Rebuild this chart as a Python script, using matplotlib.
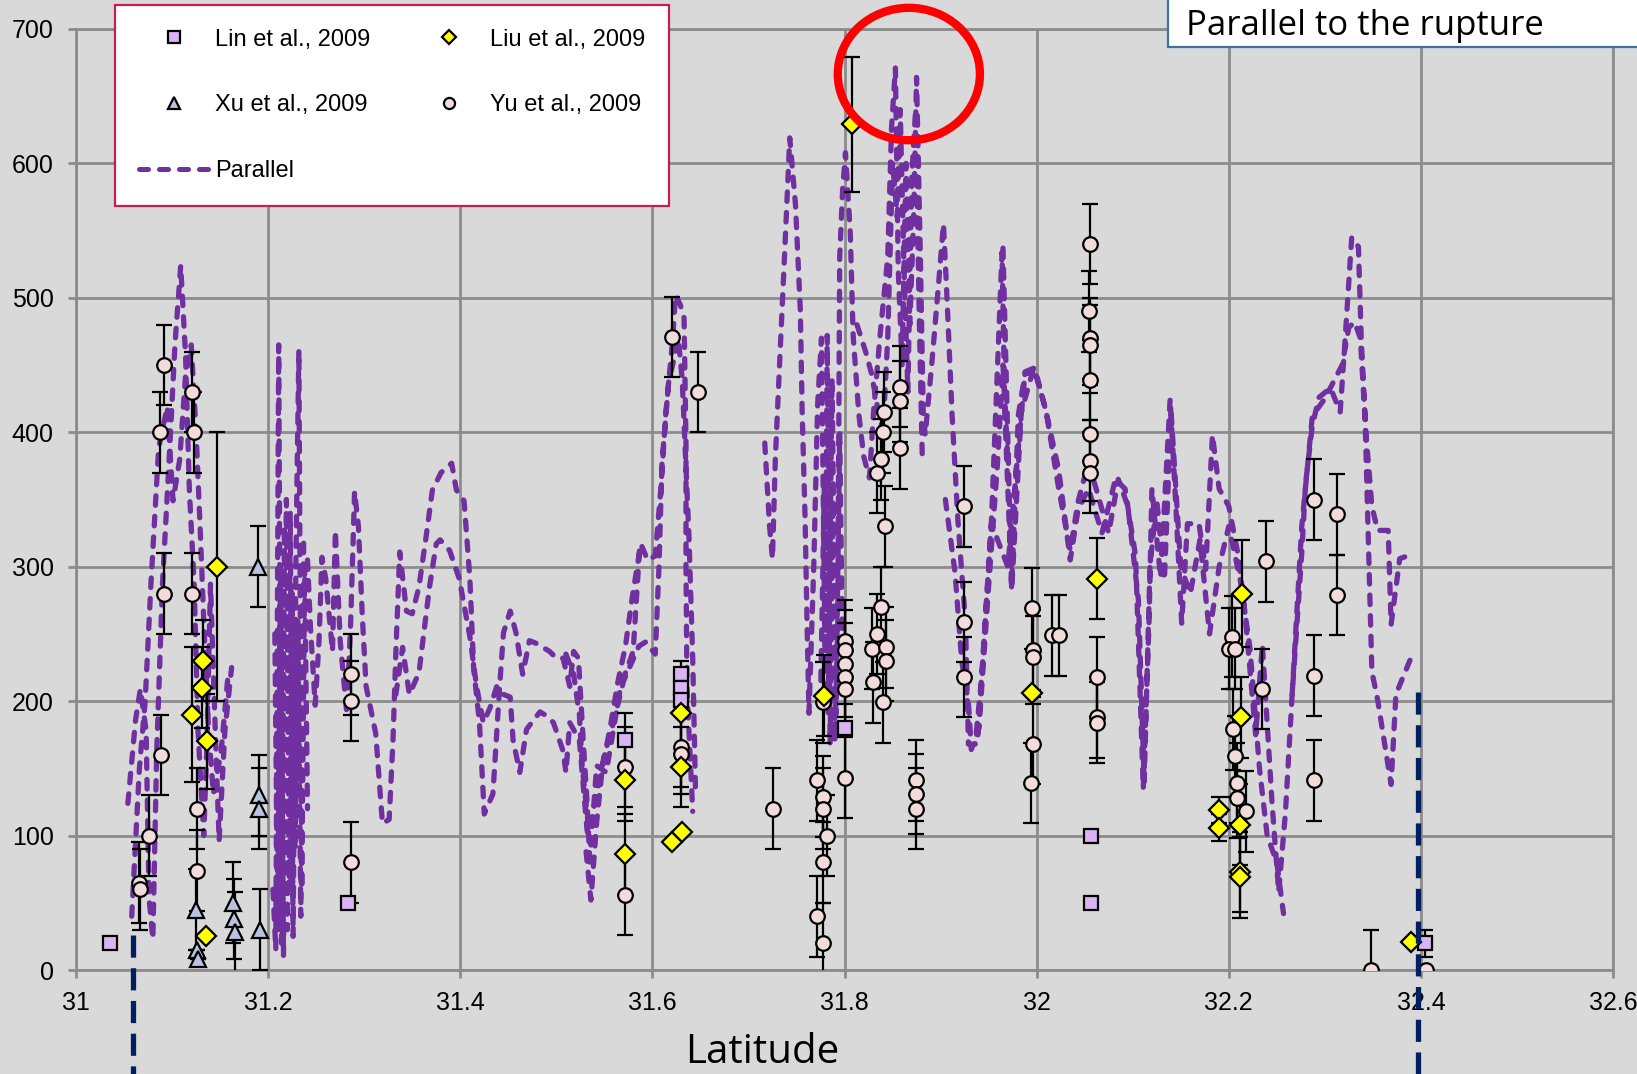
import matplotlib
matplotlib.use("Agg")
import matplotlib.pyplot as plt
from matplotlib.lines import Line2D
from matplotlib.patches import Ellipse, Rectangle

plt.rcParams['font.family'] = ['Liberation Sans', 'DejaVu Sans']

nan = float('nan')

# ---------------- measured values ----------------
lin_lat = [31.035, 31.283, 31.571, 31.630, 31.630, 31.630, 31.800, 32.057, 32.057, 32.404]
lin_val = [20, 50, 171, 220, 210, 201, 180, 100, 50, 20]
lin_err = [0, 0, 20, 10, 0, 0, 0, 0, 0, 10]

xu_lat = [31.125, 31.126, 31.127, 31.163, 31.164, 31.165, 31.189, 31.190, 31.191, 31.192]
xu_val = [45, 15, 8, 50, 38, 28, 300, 130, 120, 30]
xu_err = [30, 0, 0, 30, 30, 30, 30, 30, 30, 30]

liu_lat = [31.121, 31.131, 31.132, 31.136, 31.147, 31.135, 31.571, 31.571, 31.620, 31.631,
           31.630, 31.630, 31.779, 31.808, 31.995, 32.063, 32.190, 32.190, 32.214, 32.213,
           32.212, 32.212, 32.212, 32.390]
liu_val = [190, 210, 230, 170, 300, 25, 141, 86, 95, 103,
           191, 151, 204, 629, 206, 291, 119, 106, 280, 188,
           108, 73, 69, 21]
liu_err = [50, 30, 30, 35, 100, 0, 30, 30, 0, 0,
           30, 30, 30, 50, 0, 30, 10, 10, 40, 30,
           30, 30, 30, 0]

yu_lat = [31.066, 31.067, 31.076, 31.0885, 31.092, 31.0875, 31.092, 31.121, 31.123, 31.121,
          31.126, 31.126, 31.286, 31.286, 31.286, 31.571, 31.571, 31.620, 31.648, 31.630,
          31.630, 31.726, 31.771, 31.778, 31.778, 31.782, 31.778, 31.771, 31.778, 31.778,
          31.800, 31.800, 31.800, 31.800, 31.800, 31.800, 31.829, 31.830, 31.834, 31.834,
          31.838, 31.840, 31.841, 31.842, 31.838, 31.843, 31.843, 31.840, 31.858, 31.858,
          31.858, 31.874, 31.874, 31.874, 31.924, 31.924, 31.924, 31.995, 31.996, 31.996,
          31.996, 31.994, 32.016, 32.023, 32.056, 32.055, 32.056, 32.056, 32.056, 32.056,
          32.056, 32.056, 32.063, 32.063, 32.063, 32.2035, 32.200, 32.207, 32.204, 32.206,
          32.209, 32.209, 32.218, 32.235, 32.239, 32.289, 32.289, 32.289, 32.313, 32.313,
          32.348, 32.405]
yu_val = [65, 60, 100, 160, 280, 400, 450, 430, 400, 280,
          120, 74, 220, 200, 80, 151, 56, 471, 430, 166,
          161, 120, 141, 129, 120, 100, 80, 40, 20, 199,
          245, 238, 228, 218, 209, 143, 239, 214, 250, 370,
          380, 400, 415, 330, 270, 240, 230, 199, 434, 423,
          388, 141, 131, 120, 345, 259, 218, 269, 238, 233,
          168, 139, 249, 249, 540, 490, 470, 465, 439, 399,
          379, 370, 218, 188, 184, 248, 239, 239, 179, 159,
          139, 128, 118, 209, 304, 350, 219, 141, 339, 279,
          0, 0]
yu_err = [30] * 90 + [30, 0]

# "Parallel" profile, several overlapping traces separated by gaps
parallel_lat = [
    31.054, 31.062, 31.067, 31.073, 31.076, 31.080, 31.084, 31.090, 31.097, 31.103, 31.109,
    31.114, 31.118, 31.123, 31.127, 31.133, 31.136, 31.140, 31.145, 31.149, 31.155, 31.162, nan,
    31.058, 31.066, 31.072, 31.078, 31.086, 31.095, 31.101, 31.108, 31.114, 31.120, 31.125,
    31.129, 31.133, 31.138, 31.143, 31.151, 31.158, nan,
    31.205, 31.208, 31.211, 31.214, 31.217, 31.220, 31.223, 31.226, 31.229, 31.232, 31.235,
    31.238, 31.241, nan,
    31.207, 31.210, 31.213, 31.216, 31.219, 31.222, 31.225, 31.228, 31.231, 31.234, 31.237, nan,
    31.241, 31.244, 31.249, 31.253, 31.256, 31.260, 31.267, 31.270, 31.275, 31.282, 31.286,
    31.290, 31.294, 31.298, 31.302, 31.312, 31.319, 31.326, 31.330, 31.333, 31.337, 31.344,
    31.350, 31.357, 31.364, 31.371, 31.380, 31.391, 31.396, 31.404, 31.410, 31.414, 31.420,
    31.425, 31.434, 31.441, 31.445, 31.452, 31.458, 31.465, 31.472, 31.479, 31.493, 31.500,
    31.507, 31.514, 31.518, 31.523, 31.528, 31.532, 31.535, nan,
    31.333, 31.340, 31.347, 31.357, 31.368, 31.375, 31.379, 31.389, 31.399, 31.410, 31.417,
    31.424, 31.431, 31.438, 31.445, 31.452, 31.455, 31.462, 31.469, 31.483, 31.490, 31.497,
    31.507, 31.510, 31.514, 31.524, 31.532, 31.536, 31.542, 31.552, 31.567, 31.580, 31.587, nan,
    31.531, 31.536, 31.542, 31.548, 31.556, 31.564, 31.572, 31.579, 31.588, 31.595, 31.603,
    31.609, 31.614, 31.621, 31.624, 31.629, 31.633, 31.635, 31.635, 31.636, 31.642, nan,
    31.510, 31.518, 31.524, 31.527, 31.534, 31.542, 31.550, 31.558, 31.570, 31.586, 31.593,
    31.603, 31.607, 31.610, 31.617, 31.622, 31.627, 31.631, 31.638, 31.642, 31.645, nan,
    31.717, 31.722, 31.725, 31.728, 31.733, 31.738, 31.743, 31.749, 31.754, 31.756, 31.759,
    31.761, 31.763, 31.768, 31.772, 31.776, 31.780, 31.782, 31.785, 31.788, 31.790, 31.793,
    31.795, 31.798, 31.801, 31.806, 31.809, 31.815, 31.820, 31.826, 31.830, 31.837, 31.845,
    31.849, 31.853, 31.856, 31.860, 31.864, 31.868, 31.872, 31.875, 31.879, 31.882, 31.884,
    31.891, 31.898, 31.903, 31.906, 31.912, 31.918, 31.926, 31.929, 31.936, 31.943, 31.953,
    31.964, 31.967, 31.974, 31.981, 31.988, 31.995, nan,
    31.775, 31.779, 31.783, 31.787, 31.791, 31.795, 31.798, nan,
    31.813, 31.822, 31.828, 31.834, 31.840, 31.845, 31.850, 31.855, 31.858, 31.862, 31.866,
    31.870, 31.874, 31.878, 31.881, nan,
    31.905, 31.915, 31.922, 31.929, 31.932, 31.940, 31.950, 31.959, 31.965, 31.970, nan,
    31.965, 31.974, 31.984, 31.997, 32.009, 32.023, 32.035, 32.043, 32.054, 32.068, 32.082,
    32.092, 32.103, 32.111, 32.117, 32.120, 32.129, 32.139, 32.144, 32.151, 32.157, 32.169,
    32.176, 32.183, 32.190, 32.200, 32.210, 32.217, 32.228, 32.235, 32.245, 32.252, 32.259,
    32.266, 32.276, 32.280, 32.287, 32.294, 32.306, 32.316, 32.321, 32.328, 32.335, 32.338,
    32.343, 32.349, 32.355, 32.366, 32.369, 32.378, 32.386, nan,
    31.939, 31.953, 31.970, 31.988, 31.998, 32.010, 32.023, 32.035, 32.043, 32.054, 32.075,
    32.085, 32.095, 32.106, 32.112, 32.118, 32.125, 32.133, 32.140, 32.150, 32.160, 32.170,
    32.180, 32.190, 32.200, 32.212, 32.222, 32.232, 32.240, 32.250, 32.257, nan,
    32.266, 32.276, 32.287, 32.300, 32.318, 32.325, 32.331, 32.337, 32.342, 32.349, 32.355,
    32.369, 32.374, 32.389,
]
parallel_val = [
    124, 186, 209, 178, 54, 23, 162, 287, 380, 465, 524,
    458, 357, 287, 178, 100, 162, 287, 178, 96, 178, 225, nan,
    40, 150, 200, 287, 388, 419, 349, 380, 442, 465, 400,
    333, 260, 178, 131, 162, 217, nan,
    60, 15, 465, 20, 330, 30, 340, 25, 310, 461, 60,
    300, 120, nan,
    250, 30, 300, 10, 350, 60, 280, 90, 260, 40, 320, nan,
    305, 256, 197, 245, 307, 291, 237, 327, 245, 190, 260,
    356, 330, 264, 211, 176, 109, 112, 171, 237, 311, 267,
    265, 285, 320, 357, 370, 377, 357, 349, 291, 224, 184,
    116, 131, 211, 251, 267, 251, 220, 245, 243, 237, 232,
    232, 211, 237, 232, 171, 125, 79, nan,
    205, 240, 205, 221, 285, 317, 320, 312, 291, 248, 211,
    184, 195, 211, 205, 203, 171, 147, 179, 192, 189, 184,
    163, 147, 184, 171, 104, 93, 152, 147, 211, 237, 317, nan,
    88, 52, 110, 151, 180, 214, 241, 277, 317, 305, 308,
    360, 414, 468, 502, 495, 485, 391, 300, 210, 118, nan,
    235, 220, 190, 151, 103, 130, 160, 180, 215, 241, 244,
    235, 302, 377, 438, 453, 470, 440, 324, 232, 130, nan,
    392, 330, 306, 380, 460, 538, 619, 569, 491, 413, 335,
    258, 191, 300, 420, 470, 220, 472, 168, 350, 170, 258,
    530, 580, 608, 549, 472, 413, 382, 366, 413, 472, 530,
    627, 671, 520, 450, 600, 480, 560, 664, 530, 413, 398,
    452, 511, 555, 511, 413, 335, 258, 168, 168, 219, 335,
    534, 413, 285, 413, 444, 444, nan,
    200, 360, 190, 440, 190, 400, 230, nan,
    480, 460, 444, 420, 400, 470, 600, 560, 640, 520, 430,
    590, 640, 480, 380, nan,
    350, 296, 230, 199, 164, 180, 285, 374, 450, 380, nan,
    537, 282, 415, 448, 418, 372, 305, 342, 358, 325, 365,
    358, 308, 135, 258, 358, 292, 425, 358, 258, 332, 332,
    298, 398, 358, 345, 308, 265, 175, 242, 125, 58, 117,
    205, 310, 362, 405, 426, 433, 415, 468, 545, 538, 468,
    398, 345, 327, 327, 257, 306, 308, nan,
    175, 332, 300, 445, 448, 415, 358, 312, 348, 378, 325,
    365, 345, 275, 140, 300, 350, 290, 415, 300, 280, 320,
    250, 300, 330, 290, 240, 150, 100, 80, 42, nan,
    205, 330, 412, 425, 450, 478, 482, 470, 408, 222, 201,
    138, 205, 231,
]

x_ticks = [31, 31.2, 31.4, 31.6, 31.8, 32, 32.2, 32.4, 32.6]
x_tick_labels = ['31', '31.2', '31.4', '31.6', '31.8', '32', '32.2', '32.4', '32.6']
y_ticks = [0, 100, 200, 300, 400, 500, 600, 700]

# boundary markers (latitude, top value)
boundary_lat = [31.059, 32.397]
boundary_top = [26, 207]

# ---------------- styling ----------------
BG = '#d9d9d9'
GRID = '#8c8c8c'
PURPLE = '#7030a0'
NAVY = '#002060'

fig = plt.figure(figsize=(16.37, 10.74), dpi=100)
fig.patch.set_facecolor(BG)
W, H = 1637, 1074
ax = fig.add_axes([76 / W, 104 / H, (1613 - 76) / W, (970 - 29) / H])
ax.set_facecolor(BG)
ax.set_xlim(31, 32.6)
ax.set_ylim(0, 700)
ax.set_xticks(x_ticks)
ax.set_xticklabels(x_tick_labels)
ax.set_yticks(y_ticks)
ax.grid(True, color=GRID, lw=2.0, zorder=0)
ax.set_axisbelow(True)
for s in ax.spines.values():
    s.set_color(GRID)
    s.set_linewidth(2.0)
ax.tick_params(axis='both', colors=GRID, width=2.0, length=6, labelsize=18,
               labelcolor='black', direction='out')
ax.tick_params(axis='x', pad=9)
ax.tick_params(axis='y', pad=10)

# Parallel profile
ax.plot(parallel_lat, parallel_val, color=PURPLE, lw=3.8, dashes=(1.8, 2.1),
        dash_capstyle='round', solid_capstyle='round', zorder=2)

eb_kw = dict(ls='none', ecolor='black', elinewidth=1.6, capsize=5.5, capthick=1.6,
             mec='black', mew=1.6, zorder=3)
ax.errorbar(yu_lat, yu_val, yerr=yu_err, marker='o', ms=10.5, mfc='#f2dcdb', **eb_kw)
ax.errorbar(xu_lat, xu_val, yerr=xu_err, marker='^', ms=11, mfc='#b9c3e0', **eb_kw)
ax.errorbar(lin_lat, lin_val, yerr=lin_err, marker='s', ms=10, mfc='#d9b3f2', **eb_kw)
ax.errorbar(liu_lat, liu_val, yerr=liu_err, marker='D', ms=10, mfc='#ffff00', **eb_kw)

# rupture segment boundaries
for lat, top in zip(boundary_lat, boundary_top):
    ax.plot([lat, lat], [top, -90], color=NAVY, lw=3.8, dashes=(4.2, 2.0),
            clip_on=False, zorder=4)

# highlight of the highest peaks
ax.add_patch(Ellipse((31.867, 666.5), 0.148, 98.5, fill=False, edgecolor='#ff0000',
                     lw=6, clip_on=False, zorder=5))

# legend
handles = [
    Line2D([], [], ls='none', marker='s', ms=8, mfc='#d9b3f2', mec='black', mew=1.6),
    Line2D([], [], ls='none', marker='^', ms=8.5, mfc='#b9c3e0', mec='black', mew=1.6),
    Line2D([], [], color=PURPLE, lw=3.6, dashes=(1.8, 2.2), dash_capstyle='round'),
    Line2D([], [], ls='none', marker='D', ms=7.5, mfc='#ffff00', mec='black', mew=1.6),
    Line2D([], [], ls='none', marker='o', ms=8, mfc='#f2dcdb', mec='black', mew=1.6),
]
labels = ['Lin et al., 2009', 'Xu et al., 2009', 'Parallel', 'Liu et al., 2009', 'Yu et al., 2009']
leg = ax.legend(handles, labels, ncol=2, loc='upper left',
                bbox_to_anchor=(115 / W, 1 - 5 / H), bbox_transform=fig.transFigure,
                borderaxespad=0, fontsize=17, frameon=True, fancybox=False,
                framealpha=1, facecolor='white', edgecolor='#c0204a',
                borderpad=1.0, labelspacing=1.85, handlelength=3.0,
                handletextpad=0.25, columnspacing=1.8)
leg.get_frame().set_linewidth(1.6)
leg.set_zorder(10)

# x-axis title
fig.text(762 / W, 1 - 1063 / H, 'Latitude', ha='center', va='baseline',
         fontsize=29, family=['Open Sans', 'DejaVu Sans'])

# caption box in the upper right corner
fig.patches.append(Rectangle((1168 / W, 1 - 47 / H), 0.5, 0.2, transform=fig.transFigure,
                             facecolor='white', edgecolor='#41719c', lw=1.6, zorder=20))
fig.text(1186 / W, 1 - 35 / H, 'Parallel to the rupture', ha='left', va='baseline',
         fontsize=25, family=['Open Sans', 'DejaVu Sans'], zorder=21)

fig.savefig('out.png', dpi=100, facecolor=BG)
